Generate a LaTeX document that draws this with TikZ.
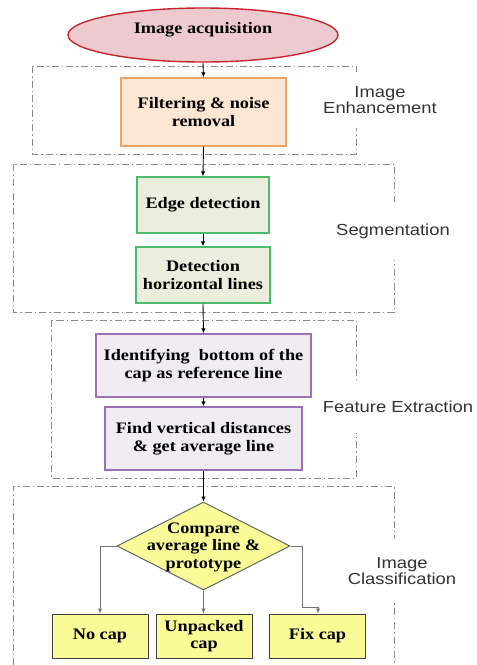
\documentclass[tikz,border=0pt]{standalone}
\usepackage{fontspec}
\setmainfont{Liberation Serif}[FakeStretch=1.14]
\newfontfamily\lblfont{Liberation Sans}[FakeStretch=1.15]
\usetikzlibrary{arrows.meta,shapes.geometric}
\definecolor{ellfill}{HTML}{EDCACE}
\definecolor{elldraw}{HTML}{C4262E}
\definecolor{orfill}{HTML}{FCE6D4}
\definecolor{ordraw}{HTML}{F0A468}
\definecolor{grfill}{HTML}{EBEEDD}
\definecolor{grdraw}{HTML}{4DBB6E}
\definecolor{pufill}{HTML}{F0ECF3}
\definecolor{pudraw}{HTML}{9E6FB3}
\definecolor{yefill}{HTML}{FAFA96}
\definecolor{frame}{HTML}{8A8A8A}
\tikzset{
  x=1pt,y=-1pt,
  txt/.style={font=\fontsize{16}{17.5}\selectfont\bfseries, align=center},
  procbox/.style={txt, draw, line width=1.3pt, minimum width=#1, inner sep=0pt},
  ellshape/.style={ellipse, draw=elldraw, fill=ellfill, line width=1.4pt, minimum width=270, minimum height=54, inner sep=0pt},
  orbox/.style={procbox=165, draw=ordraw, fill=orfill, minimum height=68},
  grbox/.style={procbox=132, draw=grdraw, fill=grfill, minimum height=56},
  pubox/.style={procbox=#1, draw=pudraw, fill=pufill, minimum height=63},
  yebox/.style={procbox=96, draw=black!75, fill=yefill, line width=1pt, minimum height=44},
  decshape/.style={diamond, draw=black!60, fill=yefill, line width=1pt, minimum width=173, minimum height=88, inner sep=0pt},
  stage/.style={draw=frame, line width=0.9pt, dash pattern=on 7pt off 3pt on 1.5pt off 3pt},
  lbl/.style={font=\lblfont\fontsize{16}{16.5}\selectfont, text=black!80, fill=white, align=center, inner xsep=2pt, inner ysep=#1},
  arr/.style={-{Latex[length=5pt,width=4.5pt]}, line width=0.9pt},
  brarr/.style={-{Latex[length=5pt,width=4.5pt]}, line width=0.9pt, draw=black!55}
}
\begin{document}
\begin{tikzpicture}
\useasboundingbox (0,0) rectangle (477,665);
% stage frames
\draw[stage] (32,66) rectangle (356,154);
\draw[stage] (13,164) rectangle (394,312);
\draw[stage] (51,320) rectangle (356,478);
\draw[stage] (13,665) -- (13,486) -- (394,486) -- (394,665);
% labels
\node[lbl=14pt] (l1) at (380,100) {Image\\Enhancement};
\node[lbl=22pt] (l2) at (393,231) {Segmentation};
\node[lbl=20pt] (l3) at (398,407) {Feature Extraction};
\node[lbl=18pt] (l4) at (402,571) {Image\\Classification};
% nodes
\node[ellshape] (acq) at (203,35) {};
\node[txt] (acqtxt) at (203,30) {Image acquisition};
\node[orbox] (filt) at (203.5,112) {Filtering \& noise\\removal};
\node[grbox] (edge) at (203,205) {Edge detection};
\node[grbox, minimum width=134] (hor) at (203,275) {Detection\\horizontal lines};
\node[pubox=215] (ref) at (203.5,365.5) {Identifying\ \ bottom of the\\cap as reference line};
\node[pubox=197] (avg) at (203.5,438.5) {Find vertical distances\\\& get average line};
\node[decshape] (cmp) at (203.5,546) {};
\node[txt] (cmptxt) at (203.5,547) {Compare\\average line \&\\prototype};
\node[yebox] (nocap) at (100,636) {No cap};
\node[yebox] (unp) at (204,636) {Unpacked\\cap};
\node[yebox] (fix) at (317.5,636) {Fix cap};
\coordinate (fc1) at (302,546);
\coordinate (fc2) at (302,607);
\coordinate (fc3) at (318,607);
% connectors
\draw[arr] (acq.south) -- (filt.north);
\draw[arr] (filt.south) -- (edge.north);
\draw[arr] (edge.south) -- (hor.north);
\draw[arr] (hor.south) -- (ref.north);
\draw[arr] (ref.south) -- (avg.north);
\draw[arr] (avg.south) -- (cmp.north);
\draw[brarr] (cmp.west) -| (nocap.north);
\draw[brarr] (cmp.south) -- (unp.north -| cmp.south);
\draw[brarr] (cmp.east) -- (fc1) -- (fc2) -- (fc3) -- (fix.north -| fc3);
\end{tikzpicture}
\end{document}
